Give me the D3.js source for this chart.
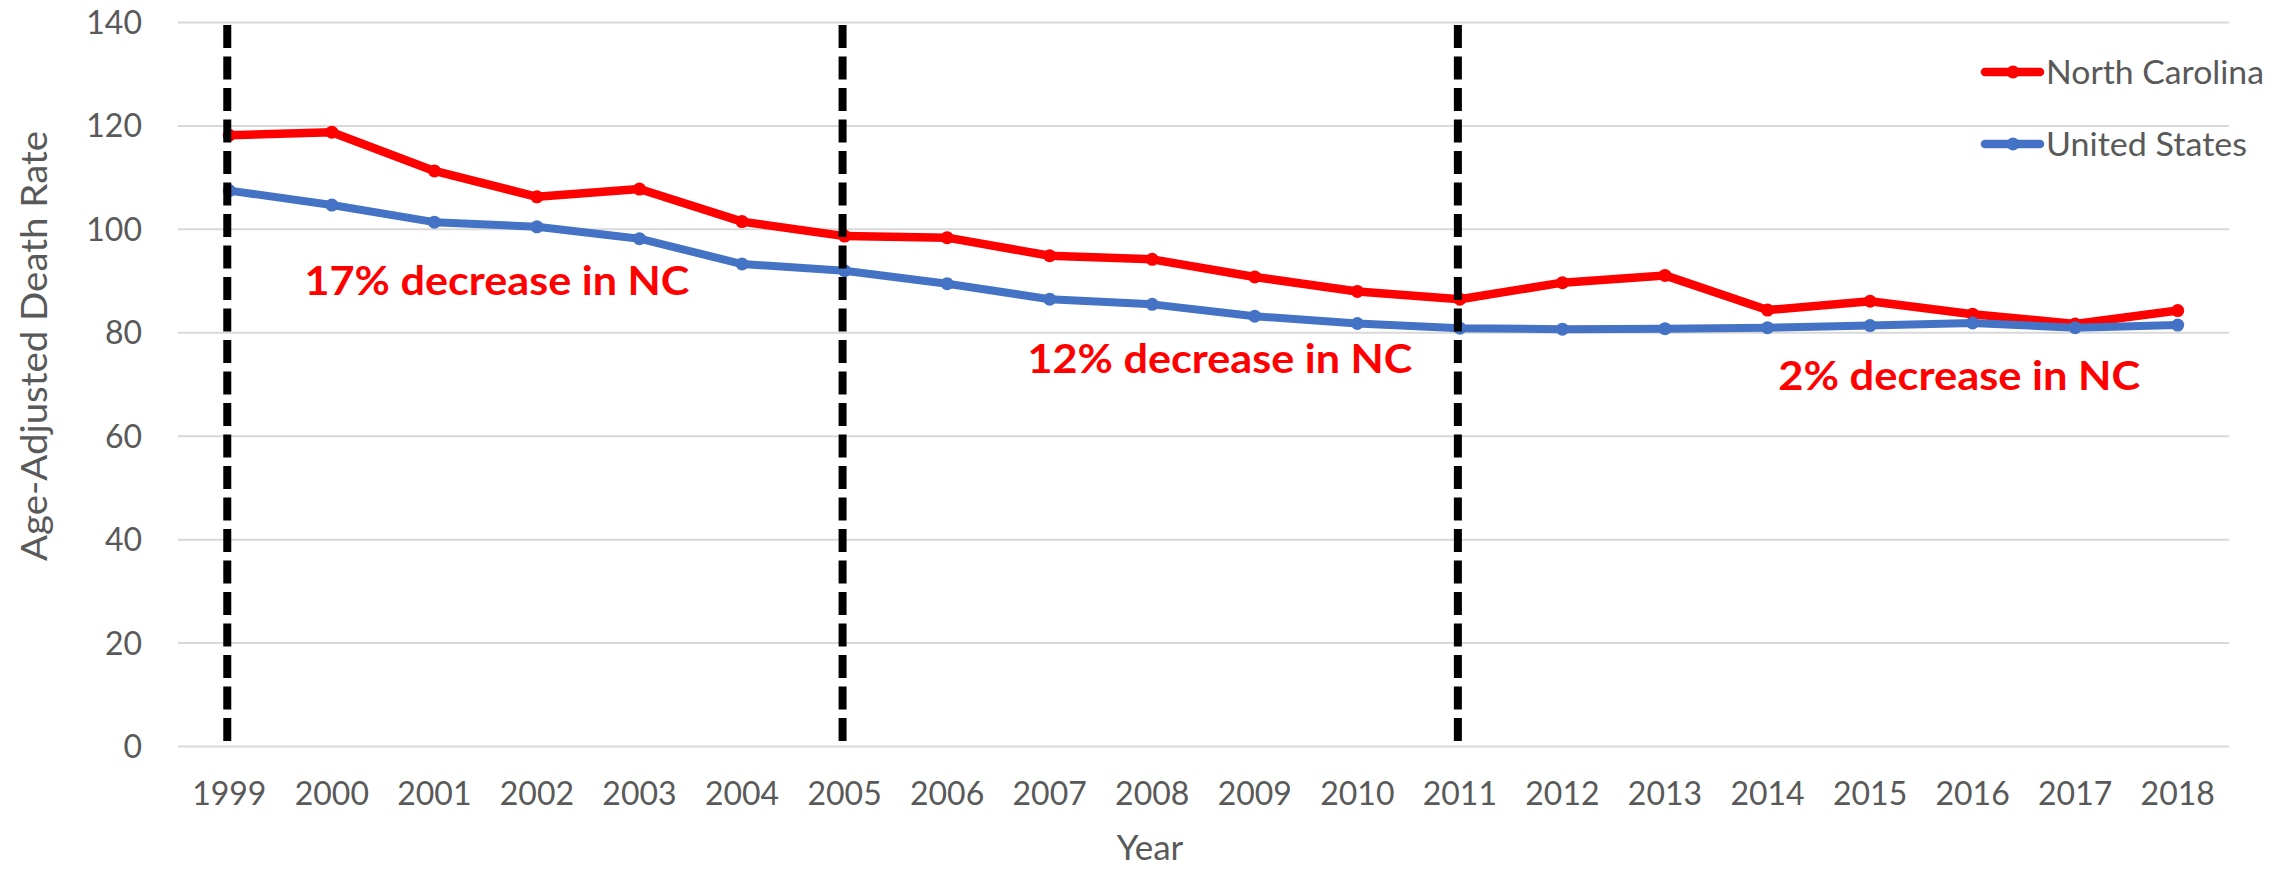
<!DOCTYPE html>
<html>
<head>
<meta charset="utf-8">
<script src="https://cdn.jsdelivr.net/npm/d3@7"></script>
<style>
  html, body { margin: 0; padding: 0; background: #ffffff; }
  svg { display: block; }
</style>
</head>
<body>
<svg id="chart" width="2295" height="870"></svg>
<script>
// ---- data ----
const years = ["1999","2000","2001","2002","2003","2004","2005","2006","2007","2008",
               "2009","2010","2011","2012","2013","2014","2015","2016","2017","2018"];
const northCarolina = [118.1, 118.7, 111.2, 106.2, 107.7, 101.4, 98.6, 98.3, 94.8, 94.1,
                       90.7, 87.9, 86.4, 89.6, 91.0, 84.3, 86.0, 83.5, 81.6, 84.2];
const unitedStates = [107.4, 104.6, 101.3, 100.4, 98.1, 93.2, 91.9, 89.4, 86.4, 85.4,
                      83.1, 81.7, 80.8, 80.6, 80.7, 80.9, 81.3, 81.8, 80.9, 81.4];
const yTicks = [0, 20, 40, 60, 80, 100, 120, 140];
const periodBreaks = ["1999", "2005", "2011"];
const annotationTexts = ["17% decrease in NC", "12% decrease in NC", "2% decrease in NC"];
const annotationYears = [2001.61, 2008.66, 2015.87];   // centre of label, in year units
const annotationValues = [87.2, 72.1, 68.8];           // baseline, in data units
const seriesNames = ["North Carolina", "United States"];

// ---- layout ----
const svg = d3.select("#chart");
const plot = { left: 178, right: 2229, top: 22, bottom: 746 };
const font = "Lato, 'Open Sans', sans-serif";
const textGray = "#595959";
const colors = { nc: "#FF0000", us: "#4472C4" };

const x = d3.scaleBand().domain(years).range([plot.left, plot.right]);
const xc = d => x(d) + x.bandwidth() / 2;
const xYear = d3.scaleLinear()
  .domain([+years[0], +years[years.length - 1]])
  .range([xc(years[0]), xc(years[years.length - 1])]);
const y = d3.scaleLinear().domain([0, 140]).range([plot.bottom, plot.top]);

// gridlines
const yAxis = d3.axisLeft(y).tickValues(yTicks)
  .tickSize(-(plot.right - plot.left)).tickPadding(36).tickFormat(d3.format("d"));
const gy = svg.append("g").attr("transform", `translate(${plot.left},0)`).call(yAxis);
gy.select(".domain").remove();
gy.selectAll(".tick line").attr("stroke", "#d9d9d9").attr("stroke-width", 2);
gy.selectAll(".tick text")
  .attr("fill", textGray).attr("font-family", font).attr("font-size", 32)
  .attr("dy", "0.36em").attr("x", 142 - plot.left);

// x axis labels
const xAxis = d3.axisBottom(x).tickSize(0).tickPadding(0);
const gx = svg.append("g").attr("transform", `translate(0,${plot.bottom})`).call(xAxis);
gx.select(".domain").remove();
gx.selectAll(".tick text")
  .attr("fill", textGray).attr("font-family", font).attr("font-size", 32)
  .attr("y", 59).attr("dy", 0);

// axis titles
svg.append("text")
  .attr("x", 1150).attr("y", 860)
  .attr("text-anchor", "middle")
  .attr("fill", textGray).attr("font-family", font).attr("font-size", 35)
  .text("Year");

svg.append("text")
  .attr("transform", "translate(47,346) rotate(-90)")
  .attr("text-anchor", "middle")
  .attr("fill", textGray).attr("font-family", font).attr("font-size", 36)
  .attr("textLength", 430).attr("lengthAdjust", "spacingAndGlyphs")
  .text("Age-Adjusted Death Rate");

// series
const line = d3.line().x((d, i) => xc(years[i])).y(d => y(d));
function drawSeries(values, color, width) {
  const g = svg.append("g");
  g.append("path").datum(values)
    .attr("d", line).attr("fill", "none")
    .attr("stroke", color).attr("stroke-width", width)
    .attr("stroke-linejoin", "round").attr("stroke-linecap", "round");
  g.selectAll("circle").data(values).join("circle")
    .attr("cx", (d, i) => xc(years[i])).attr("cy", d => y(d))
    .attr("r", 6.5).attr("fill", color);
}
drawSeries(northCarolina, colors.nc, 8.5);
drawSeries(unitedStates, colors.us, 8);

// dashed period breaks
svg.append("g").selectAll("line").data(periodBreaks).join("line")
  .attr("x1", d => xc(d) - 2).attr("x2", d => xc(d) - 2)
  .attr("y1", y(139.4)).attr("y2", plot.bottom)
  .attr("stroke", "#000").attr("stroke-width", 8)
  .attr("stroke-dasharray", "23,8.5");

// annotations
const annWidths = [385, 385, 362];
svg.append("g").selectAll("text").data(annotationTexts).join("text")
  .attr("x", (d, i) => xYear(annotationYears[i]))
  .attr("y", (d, i) => y(annotationValues[i]))
  .attr("text-anchor", "middle")
  .attr("fill", "#FF0000").attr("font-family", font).attr("font-weight", "bold")
  .attr("font-size", 41)
  .attr("textLength", (d, i) => annWidths[i]).attr("lengthAdjust", "spacingAndGlyphs")
  .text(d => d);

// legend
const legend = svg.append("g");
const legendItems = [
  { name: seriesNames[0], color: colors.nc, cy: 72, len: 218 },
  { name: seriesNames[1], color: colors.us, cy: 144, len: 201 }
];
legendItems.forEach(it => {
  legend.append("line")
    .attr("x1", 1985).attr("x2", 2040).attr("y1", it.cy).attr("y2", it.cy)
    .attr("stroke", it.color).attr("stroke-width", 8.5).attr("stroke-linecap", "round");
  legend.append("circle").attr("cx", 2013).attr("cy", it.cy).attr("r", 6.5).attr("fill", it.color);
  legend.append("text")
    .attr("x", 2046).attr("y", it.cy + 11.5)
    .attr("fill", textGray).attr("font-family", font).attr("font-size", 32)
    .attr("textLength", it.len).attr("lengthAdjust", "spacingAndGlyphs")
    .text(it.name);
});
</script>
</body>
</html>
